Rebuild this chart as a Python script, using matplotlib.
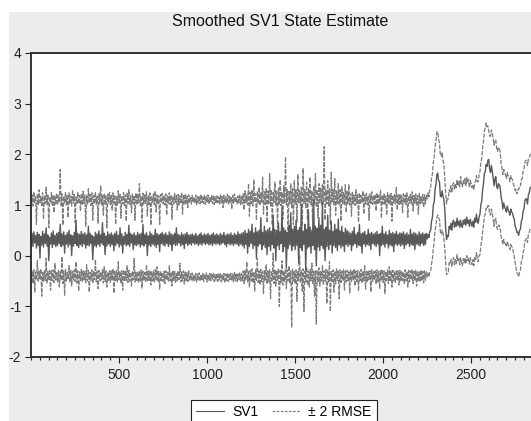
import numpy as np
import matplotlib
matplotlib.use("Agg")
import matplotlib.pyplot as plt
from matplotlib.patches import Rectangle
from matplotlib.lines import Line2D
from matplotlib.ticker import MultipleLocator, FixedLocator

plt.rcParams['font.family'] = ['Liberation Sans', 'DejaVu Sans']
plt.rcParams['axes.unicode_minus'] = False

title = "Smoothed SV1 State Estimate"
labels = ["SV1", "\u00b1 2 RMSE"]
obs_step = 5          # values read every 5 observations
noisy_start = 1       # first observation
tail_start = 2251     # where the series turns smooth

# noisy part, obs 1 .. 2246
sv1_noisy = [
    0.22, 0.44, 0.18, 0.47, 0.25, 0.40, 0.15, 0.46, 0.20, 0.42, -0.05, 0.38, 0.21, 0.48, 0.17, 0.43, 0.24, 0.55, 0.19, 0.41, -0.10, 0.36, 0.23, 0.45, 0.16, 0.49, 0.22, 0.40, 0.18, 0.44,
    0.20, 0.46, 0.24, 0.62, 0.18, 0.43, 0.21, 0.47, 0.05, 0.40, 0.23, 0.45, 0.17, 0.50, 0.22, 0.41, 0.00, 0.39, 0.19, 0.46, 0.24, 0.70, 0.20, 0.44, 0.16, 0.42, 0.22, 0.48, 0.18, 0.43,
    0.23, 0.45, 0.15, 0.41, 0.21, 0.58, 0.19, 0.44, 0.24, 0.40, -0.08, 0.37, 0.20, 0.46, 0.17, 0.43, 0.22, 0.49, 0.18, 0.41, 0.25, 0.65, 0.21, 0.44, 0.02, 0.39, 0.19, 0.47, 0.23, 0.42,
    0.18, 0.45, 0.22, 0.41, 0.10, 0.44, 0.20, 0.48, 0.24, 0.40, 0.17, 0.55, 0.21, 0.43, 0.05, 0.38, 0.23, 0.46, 0.19, 0.42, 0.22, 0.60, 0.18, 0.44, 0.25, 0.41, 0.12, 0.45, 0.21, 0.40,
    0.20, 0.46, 0.23, 0.42, 0.17, 0.44, 0.22, 0.62, 0.19, 0.41, 0.24, 0.45, 0.00, 0.39, 0.21, 0.47, 0.18, 0.43, 0.23, 0.40, 0.20, 0.52, 0.16, 0.44, 0.22, 0.41, 0.08, 0.43, 0.24, 0.46,
    0.21, 0.42, 0.19, 0.45, 0.24, 0.40, 0.18, 0.47, 0.22, 0.43, 0.10, 0.41, 0.23, 0.44, 0.20, 0.55, 0.21, 0.42, 0.25, 0.40, 0.19, 0.45, 0.22, 0.41, 0.14, 0.43, 0.24, 0.46, 0.20, 0.41,
    0.23, 0.41, 0.21, 0.43, 0.25, 0.40, 0.22, 0.44, 0.24, 0.39, 0.20, 0.42, 0.23, 0.45, 0.21, 0.40, 0.25, 0.43, 0.22, 0.41, 0.24, 0.44, 0.21, 0.40, 0.23, 0.42, 0.20, 0.45, 0.24, 0.41,
    0.22, 0.43, 0.24, 0.40, 0.21, 0.44, 0.23, 0.41, 0.25, 0.46, 0.22, 0.40, 0.18, 0.43, 0.24, 0.42, 0.21, 0.45, 0.23, 0.40, 0.20, 0.44, 0.24, 0.41, 0.22, 0.47, 0.19, 0.42, 0.23, 0.44,
    0.20, 0.46, 0.15, 0.50, 0.22, 0.44, 0.05, 0.52, 0.18, 0.48, 0.24, 0.62, 0.14, 0.45, 0.20, 0.55, -0.05, 0.47, 0.19, 0.50, 0.23, 0.75, 0.12, 0.46, 0.21, 0.58, 0.16, 0.49, 0.02, 0.52,
    0.18, 0.55, 0.10, 0.48, 0.22, 0.80, 0.15, 0.52, -0.10, 0.50, 0.20, 0.65, 0.12, 0.47, 0.24, 0.95, 0.08, 0.55, 0.18, 0.50, -0.25, 0.46, 0.14, 0.60, 0.21, 0.85, 0.10, 0.52, 0.19, 0.58,
    0.12, 0.70, 0.20, 0.50, -0.15, 0.55, 0.16, 1.00, 0.10, 0.48, 0.22, 0.62, -0.30, 0.52, 0.15, 0.90, 0.18, 0.56, 0.05, 0.50, 0.20, 1.10, 0.12, 0.58, -0.20, 0.54, 0.17, 0.75, 0.10, 0.60,
    0.20, 1.05, 0.14, 0.52, -0.10, 0.56, 0.18, 0.80, 0.12, 0.50, 0.22, 0.68, 0.05, 0.48, 0.20, 0.62, 0.16, 0.52, 0.10, 0.72, 0.21, 0.49, 0.15, 0.58, 0.19, 0.46, 0.08, 0.54, 0.22, 0.50,
    0.18, 0.47, 0.22, 0.44, 0.10, 0.48, 0.20, 0.56, 0.24, 0.42, 0.16, 0.46, 0.21, 0.62, 0.19, 0.43, 0.05, 0.45, 0.23, 0.48, 0.18, 0.41, 0.22, 0.52, 0.20, 0.44, 0.12, 0.46, 0.24, 0.42,
    0.21, 0.45, 0.18, 0.48, 0.23, 0.42, 0.00, 0.44, 0.20, 0.58, 0.22, 0.43, 0.17, 0.47, 0.24, 0.41, 0.15, 0.50, 0.21, 0.44, 0.19, 0.46, 0.08, 0.43, 0.23, 0.48, 0.20, 0.42, 0.22, 0.45,
    0.19, 0.44, 0.22, 0.47, 0.14, 0.42, 0.21, 0.45, 0.24, 0.41, 0.18, 0.52, 0.22, 0.43, 0.20, 0.46, 0.12, 0.44, 0.23, 0.41, 0.21, 0.47, 0.19, 0.43, 0.24, 0.45, 0.20, 0.42, 0.22, 0.44,
]
upper_noisy = [
    1.02, 1.20, 0.98, 1.26, 1.05, 1.18, 0.62, 1.22, 1.00, 1.30, 1.04, 1.17, 0.99, 1.24, 0.72, 1.19, 1.03, 1.35, 1.01, 1.21, 0.55, 1.16, 1.04, 1.25, 0.98, 1.20, 0.85, 1.18, 1.02, 1.23,
    1.00, 1.19, 1.05, 1.70, 0.99, 1.22, 0.60, 1.17, 1.03, 1.26, 1.00, 1.20, 0.75, 1.24, 1.02, 1.18, 0.98, 1.30, 1.04, 1.21, 0.66, 1.16, 1.01, 1.25, 1.03, 1.19, 0.88, 1.22, 1.00, 1.27,
    1.03, 1.20, 0.58, 1.18, 1.00, 1.32, 1.04, 1.21, 0.99, 1.24, 0.70, 1.19, 1.02, 1.26, 1.01, 1.17, 0.64, 1.22, 1.03, 1.38, 1.00, 1.20, 0.80, 1.23, 1.02, 1.18, 0.55, 1.21, 1.04, 1.25,
    1.01, 1.19, 0.90, 1.24, 1.03, 1.20, 0.62, 1.17, 1.00, 1.28, 1.04, 1.21, 0.74, 1.18, 1.02, 1.25, 0.99, 1.20, 0.68, 1.23, 1.03, 1.30, 1.01, 1.18, 0.85, 1.22, 1.02, 1.19, 0.70, 1.24,
    1.00, 1.21, 1.04, 1.42, 0.99, 1.18, 0.66, 1.23, 1.02, 1.20, 1.03, 1.26, 0.78, 1.19, 1.01, 1.24, 0.60, 1.17, 1.03, 1.22, 1.00, 1.28, 0.86, 1.20, 1.02, 1.18, 0.62, 1.21, 1.04, 1.23,
    1.02, 1.19, 1.00, 1.22, 0.80, 1.18, 1.03, 1.24, 1.01, 1.20, 0.72, 1.17, 1.02, 1.23, 1.04, 1.19, 0.90, 1.21, 1.00, 1.18, 1.03, 1.25, 0.82, 1.19, 1.02, 1.22, 1.01, 1.18, 0.95, 1.20,
    1.04, 1.17, 1.02, 1.19, 1.05, 1.16, 1.03, 1.20, 1.01, 1.17, 1.04, 1.18, 1.02, 1.21, 1.05, 1.16, 1.03, 1.19, 1.01, 1.17, 1.04, 1.20, 1.02, 1.16, 1.05, 1.18, 1.03, 1.19, 1.01, 1.17,
    1.03, 1.18, 1.05, 1.16, 1.02, 1.20, 1.04, 1.17, 0.95, 1.19, 1.03, 1.16, 1.05, 1.21, 1.02, 1.18, 1.04, 1.17, 0.92, 1.19, 1.03, 1.22, 1.05, 1.16, 1.02, 1.18, 1.04, 1.20, 1.01, 1.17,
    1.02, 1.22, 0.90, 1.28, 1.04, 1.20, 1.00, 1.42, 0.78, 1.25, 1.03, 1.30, 0.98, 1.50, 1.05, 1.22, 0.70, 1.27, 1.02, 1.35, 0.99, 1.24, 1.04, 1.55, 0.82, 1.26, 1.01, 1.32, 0.65, 1.28,
    1.03, 1.62, 0.98, 1.30, 0.60, 1.25, 1.05, 1.45, 1.00, 1.28, 0.55, 1.33, 1.02, 1.50, 0.98, 1.26, 0.72, 1.38, 1.04, 1.95, 1.00, 1.30, 0.48, 1.27, 1.03, 1.42, 0.95, 1.32, 0.62, 1.48,
    1.02, 1.30, 0.66, 1.60, 1.04, 1.28, 0.99, 1.35, 0.58, 1.72, 1.03, 1.30, 0.95, 1.45, 0.70, 1.32, 1.05, 1.55, 1.00, 1.28, 0.52, 1.38, 1.02, 1.62, 0.96, 1.30, 0.75, 1.42, 1.04, 1.33,
    1.00, 1.40, 1.03, 2.15, 0.70, 1.30, 1.02, 1.48, 0.98, 1.32, 0.62, 1.65, 1.04, 1.30, 1.00, 1.52, 0.80, 1.28, 1.03, 1.42, 0.99, 1.30, 0.68, 1.36, 1.02, 1.25, 1.00, 1.40, 0.85, 1.27,
    1.02, 1.40, 1.00, 1.22, 0.78, 1.25, 1.03, 1.20, 0.99, 1.30, 1.02, 1.21, 0.66, 1.24, 1.01, 1.19, 1.04, 1.28, 0.82, 1.20, 1.02, 1.23, 1.00, 1.18, 0.70, 1.22, 1.03, 1.26, 1.01, 1.19,
    1.03, 1.21, 0.88, 1.24, 1.01, 1.19, 1.04, 1.30, 0.74, 1.20, 1.02, 1.22, 1.00, 1.18, 0.80, 1.25, 1.03, 1.20, 1.01, 1.23, 0.68, 1.19, 1.04, 1.21, 1.02, 1.35, 0.90, 1.20, 1.01, 1.22,
    1.02, 1.19, 0.85, 1.22, 1.03, 1.20, 1.01, 1.24, 0.76, 1.18, 1.04, 1.21, 1.02, 1.26, 0.88, 1.19, 1.03, 1.22, 1.00, 1.20, 0.82, 1.23, 1.02, 1.18, 1.04, 1.21, 0.95, 1.20, 1.02, 1.19,
]
lower_noisy = [
    -0.50, -0.30, -0.55, -0.28, -0.72, -0.32, -0.48, -0.10, -0.52, -0.30, -0.46, -0.26, -0.80, -0.33, -0.51, -0.29, -0.49, -0.05, -0.54, -0.31, -0.47, -0.27, -0.68, -0.30, -0.50, -0.28, -0.53, -0.15, -0.48, -0.32,
    -0.52, -0.29, -0.62, -0.31, -0.49, -0.02, -0.55, -0.30, -0.78, -0.27, -0.50, -0.33, -0.47, -0.20, -0.53, -0.29, -0.60, -0.31, -0.48, -0.28, -0.51, -0.12, -0.54, -0.30, -0.70, -0.32, -0.49, -0.27, -0.52, -0.30,
    -0.48, -0.31, -0.53, -0.18, -0.50, -0.29, -0.72, -0.33, -0.49, -0.28, -0.55, -0.30, -0.47, -0.08, -0.52, -0.31, -0.65, -0.29, -0.50, -0.32, -0.48, -0.27, -0.54, -0.22, -0.51, -0.30, -0.62, -0.33, -0.49, -0.28,
    -0.53, -0.30, -0.49, -0.26, -0.74, -0.31, -0.50, -0.29, -0.52, -0.12, -0.48, -0.32, -0.55, -0.30, -0.68, -0.28, -0.51, -0.31, -0.49, -0.20, -0.53, -0.29, -0.50, -0.33, -0.60, -0.30, -0.48, -0.05, -0.52, -0.31,
    -0.49, -0.32, -0.54, -0.30, -0.50, -0.28, -0.64, -0.31, -0.48, -0.33, -0.52, -0.18, -0.51, -0.30, -0.49, -0.29, -0.58, -0.32, -0.50, -0.30, -0.53, -0.27, -0.48, -0.22, -0.52, -0.31, -0.66, -0.30, -0.49, -0.33,
    -0.51, -0.31, -0.55, -0.30, -0.48, -0.33, -0.52, -0.20, -0.50, -0.32, -0.60, -0.29, -0.49, -0.31, -0.53, -0.34, -0.50, -0.30, -0.47, -0.15, -0.52, -0.32, -0.50, -0.30, -0.56, -0.31, -0.49, -0.33, -0.51, -0.30,
    -0.50, -0.36, -0.48, -0.34, -0.51, -0.37, -0.49, -0.35, -0.52, -0.36, -0.48, -0.34, -0.50, -0.37, -0.49, -0.35, -0.51, -0.36, -0.48, -0.34, -0.52, -0.37, -0.49, -0.35, -0.50, -0.36, -0.48, -0.34, -0.51, -0.37,
    -0.49, -0.35, -0.51, -0.36, -0.48, -0.34, -0.52, -0.37, -0.50, -0.35, -0.54, -0.36, -0.49, -0.34, -0.51, -0.37, -0.48, -0.35, -0.50, -0.36, -0.52, -0.33, -0.49, -0.35, -0.51, -0.36, -0.48, -0.34, -0.50, -0.35,
    -0.50, -0.30, -0.55, -0.28, -0.48, -0.12, -0.52, -0.31, -0.62, -0.29, -0.50, -0.26, -0.54, -0.32, -0.70, -0.28, -0.49, -0.05, -0.53, -0.30, -0.58, -0.27, -0.51, -0.31, -0.75, -0.29, -0.50, -0.18, -0.56, -0.30,
    -0.52, -0.28, -0.85, -0.30, -0.49, 0.05, -0.55, -0.27, -0.60, -0.31, -0.50, -0.25, -1.00, -0.29, -0.53, -0.10, -0.58, -0.30, -0.51, -0.26, -0.65, -0.28, -0.50, -0.20, -0.55, -0.30, -1.42, -0.27, -0.52, -0.31,
    -0.56, -0.28, -0.90, -0.30, -0.50, 0.02, -0.54, -0.29, -0.70, -0.26, -1.10, -0.31, -0.52, -0.22, -0.58, -0.30, -0.62, -0.27, -0.50, -0.15, -0.55, -0.29, -0.80, -0.30, -1.35, -0.28, -0.53, -0.24, -0.60, -0.31,
    -0.52, -0.20, -0.58, -0.30, -0.50, -0.27, -0.95, -0.29, -0.54, -0.12, -1.10, -0.31, -0.51, -0.28, -0.72, -0.30, -0.56, -0.26, -0.50, -0.30, -0.85, -0.28, -0.53, -0.31, -0.49, -0.27, -0.68, -0.30, -0.52, -0.29,
    -0.50, -0.30, -0.74, -0.28, -0.52, -0.31, -0.48, -0.26, -0.60, -0.30, -0.51, -0.29, -0.70, -0.32, -0.49, -0.27, -0.54, -0.30, -0.50, -0.20, -0.66, -0.31, -0.52, -0.29, -0.48, -0.30, -0.72, -0.28, -0.51, -0.31,
    -0.49, -0.30, -0.56, -0.28, -0.52, -0.31, -0.65, -0.29, -0.50, -0.27, -0.53, -0.30, -0.75, -0.31, -0.49, -0.28, -0.55, -0.22, -0.51, -0.30, -0.62, -0.29, -0.50, -0.31, -0.53, -0.28, -0.48, -0.30, -0.58, -0.29,
    -0.51, -0.30, -0.49, -0.32, -0.56, -0.28, -0.50, -0.31, -0.62, -0.29, -0.52, -0.30, -0.48, -0.27, -0.55, -0.31, -0.50, -0.29, -0.60, -0.30, -0.49, -0.32, -0.52, -0.28, -0.50, -0.31, -0.54, -0.30, -0.49, -0.32,
]

# smoother part, obs 2251 .. 2841
sv1_tail = [
    0.33, 0.42, 0.36, 0.48, 0.50, 0.68, 0.76, 1.00, 1.06, 1.32,
    1.40, 1.60, 1.63, 1.48, 1.46, 1.18, 1.16, 1.28, 1.18, 1.10,
    0.92, 0.55, 0.32, 0.40, 0.38, 0.58, 0.52, 0.64, 0.50, 0.66,
    0.70, 0.56, 0.66, 0.58, 0.74, 0.60, 0.68, 0.56, 0.70, 0.60,
    0.56, 0.70, 0.62, 0.72, 0.60, 0.76, 0.64, 0.70, 0.58, 0.72,
    0.64, 0.58, 0.68, 0.56, 0.74, 0.66, 0.82, 0.68, 0.64, 0.76,
    0.82, 1.00, 1.08, 1.30, 1.42, 1.62, 1.66, 1.80, 1.76, 1.88,
    1.90, 1.70, 1.64, 1.78, 1.66, 1.54, 1.38, 1.52, 1.56, 1.36,
    1.32, 1.42, 1.40, 1.34, 1.16, 1.08, 0.92, 1.04, 0.96, 0.92,
    0.86, 0.98, 0.90, 0.86, 0.80, 0.92, 0.86, 0.84, 0.76, 0.72,
    0.58, 0.54, 0.46, 0.46, 0.40, 0.50, 0.52, 0.68, 0.72, 0.88,
    0.92, 1.08, 1.12, 1.12, 1.02, 1.20, 1.24, 1.34, 1.35,
]
upper_tail = [
    1.12, 1.24, 1.16, 1.30, 1.36, 1.52, 1.62, 1.84, 1.94, 2.16,
    2.26, 2.44, 2.45, 2.30, 2.22, 1.98, 1.96, 2.04, 1.88, 1.80,
    1.52, 1.26, 1.02, 1.12, 1.12, 1.30, 1.26, 1.38, 1.24, 1.40,
    1.44, 1.30, 1.42, 1.34, 1.50, 1.38, 1.46, 1.36, 1.56, 1.42,
    1.36, 1.48, 1.42, 1.52, 1.38, 1.54, 1.44, 1.50, 1.34, 1.48,
    1.42, 1.34, 1.40, 1.30, 1.44, 1.46, 1.58, 1.46, 1.46, 1.60,
    1.66, 1.84, 1.92, 2.14, 2.26, 2.46, 2.52, 2.62, 2.54, 2.56,
    2.46, 2.36, 2.36, 2.48, 2.40, 2.32, 2.18, 2.28, 2.28, 2.12,
    2.06, 2.14, 2.12, 2.04, 1.82, 1.74, 1.60, 1.70, 1.66, 1.60,
    1.52, 1.64, 1.58, 1.54, 1.46, 1.58, 1.52, 1.50, 1.40, 1.38,
    1.28, 1.30, 1.22, 1.30, 1.30, 1.38, 1.38, 1.50, 1.52, 1.66,
    1.70, 1.84, 1.88, 1.88, 1.78, 1.90, 1.92, 1.99, 2.00,
]
lower_tail = [
    -0.42, -0.34, -0.42, -0.32, -0.30, -0.16, -0.06, 0.14, 0.28, 0.50,
    0.60, 0.76, 0.80, 0.74, 0.72, 0.46, 0.42, 0.50, 0.44, 0.34,
    0.14, -0.14, -0.38, -0.32, -0.32, -0.14, -0.16, -0.08, -0.22, -0.08,
    -0.04, -0.18, -0.08, -0.16, 0.02, -0.12, -0.06, -0.18, -0.04, -0.14,
    -0.20, -0.06, -0.14, -0.04, -0.16, 0.00, -0.10, -0.04, -0.18, -0.04,
    -0.12, -0.18, -0.08, -0.20, -0.02, -0.08, 0.06, -0.06, -0.12, 0.00,
    0.02, 0.20, 0.28, 0.48, 0.60, 0.78, 0.82, 0.94, 0.92, 0.99,
    0.98, 0.82, 0.80, 0.92, 0.84, 0.72, 0.58, 0.70, 0.74, 0.56,
    0.52, 0.60, 0.60, 0.54, 0.38, 0.32, 0.22, 0.32, 0.26, 0.22,
    0.18, 0.28, 0.22, 0.18, 0.12, 0.22, 0.18, 0.16, 0.06, -0.02,
    -0.14, -0.24, -0.34, -0.36, -0.42, -0.32, -0.28, -0.12, -0.08, 0.06,
    0.12, 0.28, 0.32, 0.34, 0.26, 0.42, 0.46, 0.52, 0.55,
]


def series(noisy, tail):
    x = np.concatenate([noisy_start + obs_step * np.arange(len(noisy)),
                        tail_start + obs_step * np.arange(len(tail))])
    return x, np.array(noisy + tail)


x_sv1, sv1 = series(sv1_noisy, sv1_tail)
x_up, upper = series(upper_noisy, upper_tail)
x_lo, lower = series(lower_noisy, lower_tail)

W, H = 531, 421
fig = plt.figure(figsize=(W / 100, H / 100), dpi=100, facecolor="white")
# grey panel behind the graph
fig.patches.append(Rectangle((9 / W, 0), 1, 1 - 12 / H, transform=fig.transFigure,
                             facecolor="#ececec", edgecolor="none", zorder=-1))

ax = fig.add_axes([31 / W, 64 / H, 500 / W, 304 / H])
ax.set_facecolor("white")

band_col = "#7c7c7c"
sv1_col = "#595959"
ax.plot(x_up, upper, color=band_col, lw=0.9, dashes=(3.5, 1.2))
ax.plot(x_lo, lower, color=band_col, lw=0.9, dashes=(3.5, 1.2))
ax.plot(x_sv1, sv1, color=sv1_col, lw=1.0)

ax.set_xlim(0, 2841)
ax.set_ylim(-2, 4)
ax.xaxis.set_major_locator(FixedLocator([500, 1000, 1500, 2000, 2500]))
ax.xaxis.set_minor_locator(MultipleLocator(50))
ax.yaxis.set_major_locator(MultipleLocator(1))
ax.tick_params(axis="both", which="major", direction="out", length=4.5, width=0.8,
               labelsize=10, colors="#222222")
ax.tick_params(axis="x", which="minor", direction="out", length=2.3, width=0.8, colors="#222222")
ax.tick_params(axis="y", pad=2.5)
ax.tick_params(axis="x", pad=3.5)

for side in ["left", "bottom", "top"]:
    ax.spines[side].set_linewidth(1.4)
    ax.spines[side].set_color("#333333")
ax.spines["right"].set_visible(False)

fig.text(280 / W, 1 - 21 / H, title, ha="center", va="center", fontsize=11.5, color="#111111")

handles = [Line2D([], [], color=sv1_col, lw=0.8),
           Line2D([], [], color=band_col, lw=0.8, dashes=(2.5, 1.2))]
leg = fig.legend(handles, labels, loc="upper center", bbox_to_anchor=(284 / W, 1 - 400 / H),
                 ncol=2, frameon=True, fancybox=False, edgecolor="#222222", framealpha=1,
                 borderaxespad=0, handlelength=2.0, columnspacing=1.0, handletextpad=0.6,
                 borderpad=0.35, fontsize=10)
leg.get_frame().set_linewidth(0.8)

fig.savefig("out.png", dpi=100, facecolor=fig.get_facecolor())
